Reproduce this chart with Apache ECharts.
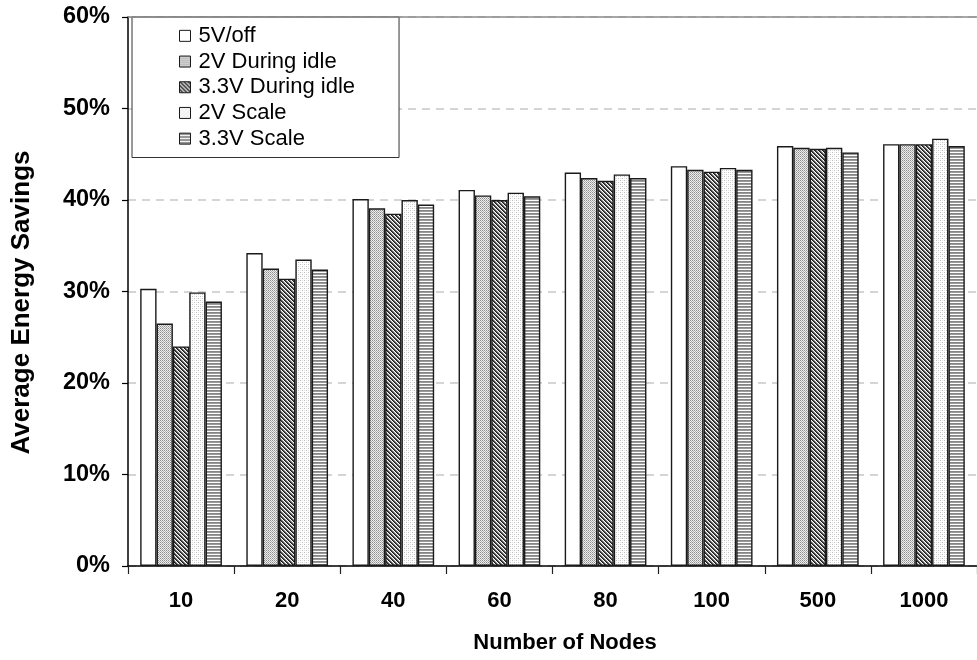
<!DOCTYPE html>
<html>
<head>
<meta charset="utf-8">
<script src="https://cdn.jsdelivr.net/npm/echarts@6/dist/echarts.min.js"></script>
<style>
  html, body { margin: 0; padding: 0; background: #fff; }
  #chart { width: 977px; height: 660px; }
</style>
</head>
<body>
<div id="chart"></div>
<script>
// Average energy savings (%) by network size, for each voltage policy
const categories = ['10', '20', '40', '60', '80', '100', '500', '1000'];
const seriesNames = ['5V/off', '2V During idle', '3.3V During idle', '2V Scale', '3.3V Scale'];
const off5V    = [30.3, 34.2, 40.1, 41.1, 43.0, 43.7, 45.9, 46.1];
const idle2V   = [26.5, 32.5, 39.1, 40.5, 42.4, 43.3, 45.7, 46.1];
const idle33V  = [24.0, 31.4, 38.5, 40.0, 42.1, 43.1, 45.6, 46.1];
const scale2V  = [29.9, 33.5, 40.0, 40.8, 42.8, 43.5, 45.7, 46.7];
const scale33V = [28.9, 32.4, 39.5, 40.4, 42.4, 43.3, 45.2, 45.9];
const yTicks = [0, 10, 20, 30, 40, 50, 60];

// Small repeating fill tiles drawn pixel by pixel
function tile(w, h, bg, pixels) {
  const c = document.createElement('canvas');
  c.width = w; c.height = h;
  const ctx = c.getContext('2d');
  ctx.fillStyle = bg;
  ctx.fillRect(0, 0, w, h);
  pixels.forEach(([x, y, col]) => {
    ctx.fillStyle = col;
    ctx.fillRect(x, y, 1, 1);
  });
  return { image: c, repeat: 'repeat' };
}

const fills = [
  '#ffffff',
  // fine gray stipple
  tile(2, 2, '#eeeeee', [[0, 0, '#8e8e8e'], [1, 1, '#b0b0b0']]),
  // dense diagonal hatch
  tile(4, 4, '#aaaaaa', [
    [0, 0, '#1e1e1e'], [1, 1, '#1e1e1e'], [2, 2, '#1e1e1e'], [3, 3, '#1e1e1e'],
    [1, 0, '#4a4a4a'], [2, 1, '#4a4a4a'], [3, 2, '#4a4a4a'], [0, 3, '#4a4a4a'],
    [3, 0, '#ffffff'], [0, 1, '#ffffff'], [1, 2, '#ffffff'], [2, 3, '#ffffff']
  ]),
  // sparse light dots
  tile(4, 4, '#ffffff', [[0, 0, '#c0c0c0'], [2, 2, '#c0c0c0'], [2, 0, '#e2e2e2'], [0, 2, '#e2e2e2']]),
  // horizontal stripes
  tile(1, 3, '#ffffff', [[0, 0, '#858585'], [0, 1, '#9a9a9a']])
];
const values = [off5V, idle2V, idle33V, scale2V, scale33V];

const FONT = '"Liberation Sans", Arial, sans-serif';

const series = seriesNames.map((name, i) => ({
  name,
  type: 'bar',
  data: values[i],
  barGap: '0%',
  barCategoryGap: '23%',
  itemStyle: { color: fills[i], borderColor: '#1a1a1a', borderWidth: 1.4 },
  emphasis: { disabled: true },
  animation: false
}));

// solid top rule at 60%
series[0].markLine = {
  silent: true,
  symbol: 'none',
  label: { show: false },
  lineStyle: { color: '#8a8a8a', type: 'solid', width: 1.5 },
  data: [{ yAxis: 60 }]
};

const chart = echarts.init(document.getElementById('chart'), null, { renderer: 'canvas' });
chart.setOption({
  backgroundColor: '#ffffff',
  animation: false,
  textStyle: { fontFamily: FONT },
  grid: { left: 128, top: 17, width: 855, height: 549, containLabel: false },
  legend: {
    orient: 'vertical',
    left: 132,
    top: 17,
    data: seriesNames,
    icon: 'rect',
    itemWidth: 11,
    itemHeight: 11,
    itemGap: 0,
    padding: [6, 44, 6, 47],
    backgroundColor: '#ffffff',
    borderColor: '#333333',
    borderWidth: 1,
    borderRadius: 0,
    selectedMode: false,
    itemStyle: { borderColor: '#1a1a1a', borderWidth: 1 },
    textStyle: { fontFamily: FONT, fontSize: 22, color: '#000', lineHeight: 25.7, padding: [0, 0, 0, 3] }
  },
  xAxis: {
    type: 'category',
    data: categories,
    name: 'Number of Nodes',
    nameLocation: 'middle',
    nameGap: 66,
    nameTextStyle: { fontFamily: FONT, fontSize: 22, fontWeight: 'bold', color: '#000', padding: [0, 0, 0, 25] },
    axisLine: { lineStyle: { color: '#000', width: 1.5 } },
    axisTick: { show: true, inside: false, length: 8, lineStyle: { color: '#222', width: 1.2 } },
    axisLabel: { fontFamily: FONT, fontSize: 22, fontWeight: 'bold', color: '#000', margin: 24 },
    splitLine: { show: false }
  },
  yAxis: {
    type: 'value',
    min: yTicks[0],
    max: yTicks[yTicks.length - 1],
    interval: 10,
    name: 'Average Energy Savings',
    nameLocation: 'middle',
    nameGap: 93,
    nameRotate: 90,
    nameTextStyle: { fontFamily: FONT, fontSize: 26, fontWeight: 'bold', color: '#000', padding: [0, 22, 0, 0] },
    axisLine: { show: true, lineStyle: { color: '#000', width: 1.5 } },
    axisTick: { show: true, inside: false, length: 6, lineStyle: { color: '#000', width: 1.2 } },
    axisLabel: { fontFamily: FONT, fontSize: 23.5, fontWeight: 'bold', color: '#000', margin: 18, formatter: '{value}%' },
    splitLine: { show: true, lineStyle: { color: '#c8c8c8', type: [8, 6], width: 1.5 } }
  },
  series
});
</script>
</body>
</html>
